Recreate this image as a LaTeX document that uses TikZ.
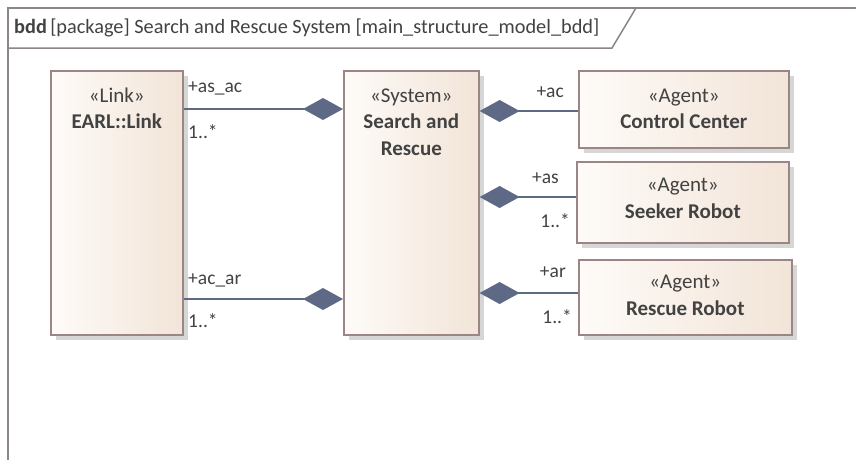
\documentclass[tikz,border=0pt]{standalone}
\usepackage{fontspec}
\setmainfont{Carlito}
\usetikzlibrary{arrows.meta,shadows}
\definecolor{boxline}{HTML}{9C8585}
\definecolor{boxl}{HTML}{FEFBF8}
\definecolor{boxr}{HTML}{F2E4D8}
\definecolor{conn}{HTML}{5E6A85}
\definecolor{txt}{HTML}{424242}
\definecolor{framecol}{HTML}{8E8585}
\begin{document}
\begin{tikzpicture}[x=1pt,y=-1pt,
  block/.style={draw=boxline, line width=1.6pt, left color=boxl, right color=boxr,
    anchor=north west, inner sep=0pt,
    drop shadow={shadow xshift=5pt, shadow yshift=-5pt, fill=black!16, opacity=1}},
  lbl/.style={text=txt, inner sep=0pt, anchor=base, font=\fontsize{21}{25}\selectfont},
  role/.style={text=txt, inner sep=0pt, font=\fontsize{19.5}{23}\selectfont},
  comp/.style={draw=conn, line width=1.8pt,
    -{Diamond[length=40pt,width=22pt,fill=conn,line width=0pt]}}]
\useasboundingbox (0,0) rectangle (856,459);

% diagram frame with its name tab
\draw[framecol, line width=1.5pt] (8,470) -- (8,8) -- (870,8);
\draw[framecol, line width=1.5pt] (8,48) -- (612,48) -- (636,8);
\node[anchor=base west, inner sep=0pt, text=txt, font=\fontsize{20.3}{24}\selectfont]
  (title) at (14,33) {\textbf{bdd}\,[package] Search and Rescue System [main\_structure\_model\_bdd]};

% blocks
\node[block, minimum width=132pt, minimum height=264pt] (link) at (50,70) {};
\node[block, minimum width=135pt, minimum height=264pt] (sys) at (343,70) {};
\node[block, minimum width=210pt, minimum height=77pt] (cc) at (578,70) {};
\node[block, minimum width=212pt, minimum height=81pt] (sr) at (576,161) {};
\node[block, minimum width=213pt, minimum height=75pt] (rr) at (578,259) {};

% block texts
\node[lbl] (linkst) at (link.north |- 0,102) {«Link»};
\node[lbl] (linknm) at (link.north |- 0,128) {\textbf{EARL::Link}};
\node[lbl] (sysst) at (sys.north |- 0,102) {«System»};
\node[lbl] (sysnm1) at (sys.north |- 0,128) {\textbf{Search and}};
\node[lbl] (sysnm2) at (sys.north |- 0,155) {\textbf{Rescue}};
\node[lbl] (ccst) at (cc.north |- 0,102) {«Agent»};
\node[lbl] (ccnm) at (cc.north |- 0,128) {\textbf{Control Center}};
\node[lbl] (srst) at (sr.north |- 0,191) {«Agent»};
\node[lbl] (srnm) at (sr.north |- 0,218) {\textbf{Seeker Robot}};
\node[lbl] (rrst) at (rr.north |- 0,288) {«Agent»};
\node[lbl] (rrnm) at (rr.north |- 0,315) {\textbf{Rescue Robot}};

% composite associations
\coordinate (y1) at (0,109);
\coordinate (y2) at (0,299);
\coordinate (y3) at (0,111);
\coordinate (y4) at (0,197);
\coordinate (y5) at (0,293);
\draw[comp] (link.east |- y1) -- (sys.west |- y1);
\draw[comp] (link.east |- y2) -- (sys.west |- y2);
\draw[comp] (cc.west |- y3) -- (sys.east |- y3);
\draw[comp] (sr.west |- y4) -- (sys.east |- y4);
\draw[comp] (rr.west |- y5) -- (sys.east |- y5);

% role names and multiplicities
\node[role, anchor=base west] (r1) at (188,92) {+as\_ac};
\node[role, anchor=base west] (m1) at (188,138) {1..*};
\node[role, anchor=base west] (r2) at (188,284) {+ac\_ar};
\node[role, anchor=base west] (m2) at (188,327) {1..*};
\node[role, anchor=base east] (r3) at (564,97) {+ac};
\node[role, anchor=base east] (r4) at (559,183) {+as};
\node[role, anchor=base east] (m4) at (570,227) {1..*};
\node[role, anchor=base east] (r5) at (566,277) {+ar};
\node[role, anchor=base east] (m5) at (572,323) {1..*};
\end{tikzpicture}
\end{document}
